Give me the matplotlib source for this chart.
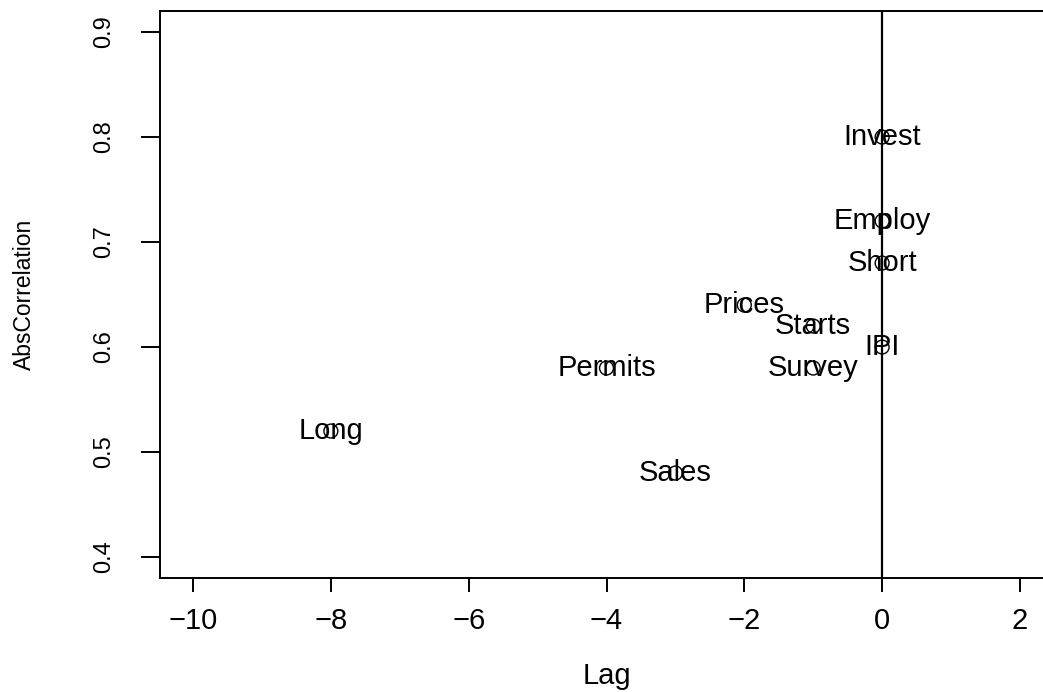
import numpy as np
import matplotlib.pyplot as plt

plt.rcParams['font.family'] = ['Liberation Sans', 'DejaVu Sans']

# lag / abs correlation per indicator
names = ["Invest", "Employ", "Short", "Prices", "Starts", "IPI", "Permits", "Survey", "Long", "Sales"]
lag = [0, 0, 0, -2, -1, 0, -4, -1, -8, -3]
abscorr = [0.80, 0.72, 0.68, 0.64, 0.62, 0.60, 0.58, 0.58, 0.52, 0.48]

xticks = [-10, -8, -6, -4, -2, 0, 2]
yticks = [0.4, 0.5, 0.6, 0.7, 0.8, 0.9]

fs = 21

fig = plt.figure(figsize=(10.43, 6.92), dpi=100)
ax = fig.add_axes([0.1534, 0.1647, 0.8562, 0.8193])

ax.scatter(lag, abscorr, s=100, facecolors='none', edgecolors='black', linewidths=1.0, zorder=3)
for n, x, y in zip(names, lag, abscorr):
    ax.text(x, y, n, ha='center', va='center', fontsize=fs, zorder=4)

ax.axvline(0, color='black', lw=1.6)

ax.set_xlim(-10.48, 2.48)
ax.set_ylim(0.38, 0.92)
ax.set_xticks(xticks)
ax.set_xticklabels([str(t).replace('-', '\u2212') for t in xticks])
ax.set_yticks(yticks)
ax.set_yticklabels([f"{t:.1f}" for t in yticks], rotation=90, va='center')

for s in ax.spines.values():
    s.set_linewidth(1.4)
ax.tick_params(axis='x', labelsize=fs, length=10, width=1.4, pad=11)
ax.tick_params(axis='y', labelsize=17, length=14, width=1.4, pad=18)

ax.set_xlabel("Lag", fontsize=fs, va='center')
ax.set_ylabel("AbsCorrelation", fontsize=16.5, va='center')
ax.xaxis.set_label_coords(0.5, -0.172)
ax.yaxis.set_label_coords(-0.152, 0.5)

fig.savefig("out.png", dpi=100)
